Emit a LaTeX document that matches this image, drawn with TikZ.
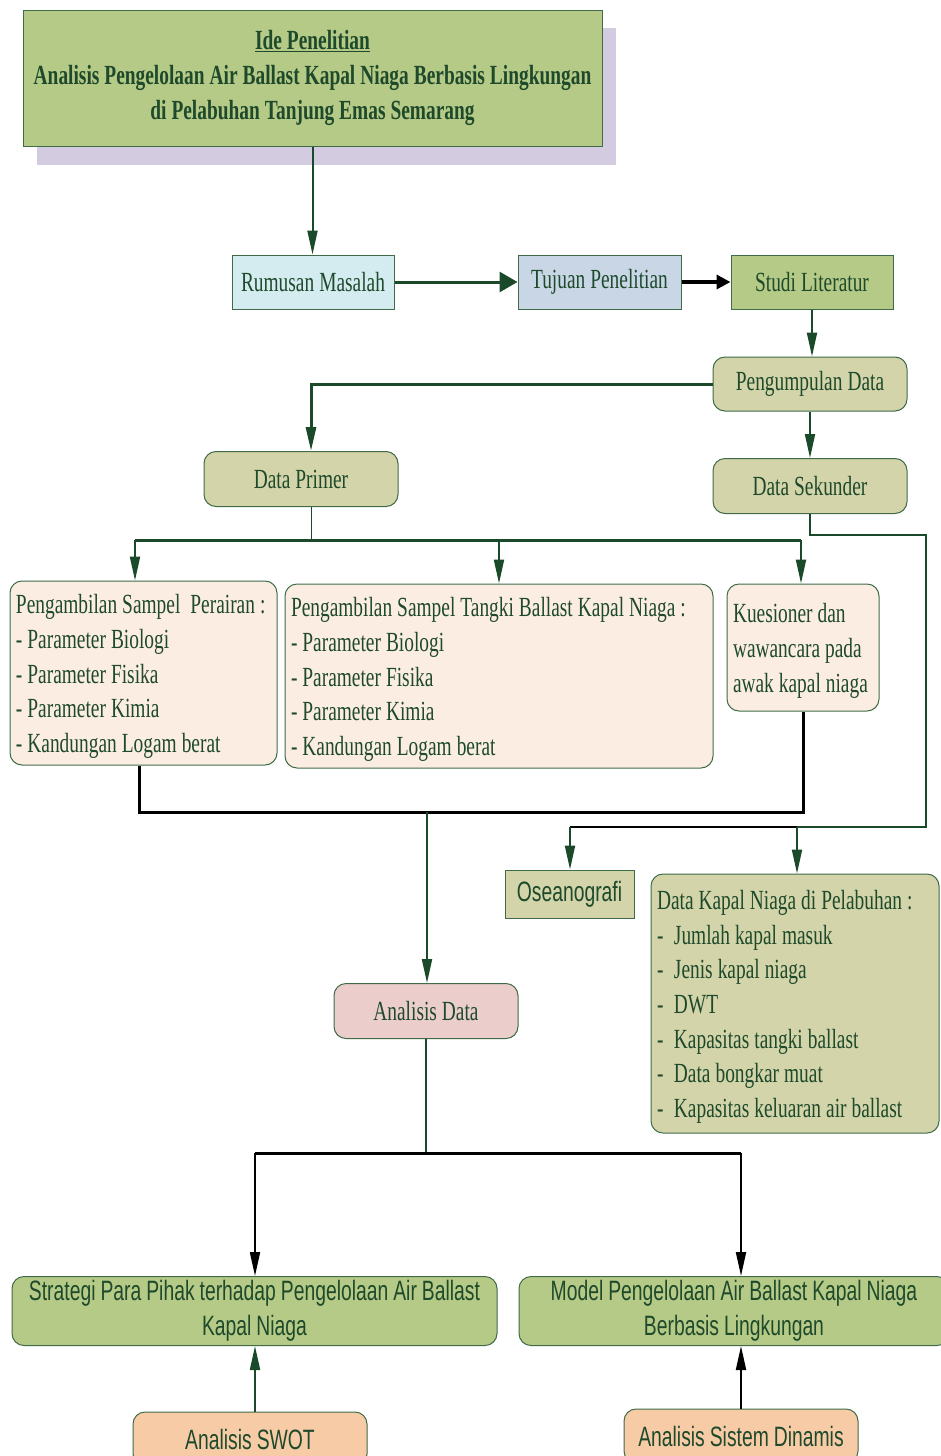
\documentclass[tikz,border=0pt]{standalone}
\usepackage{fontspec}
\setmainfont[FakeStretch=0.70]{Liberation Serif}
\setsansfont[FakeStretch=0.69]{Liberation Sans}
\usetikzlibrary{arrows.meta}

\definecolor{hijau}{HTML}{B6CA87}
\definecolor{khaki}{HTML}{D3D4A9}
\definecolor{krem}{HTML}{FCEDE3}
\definecolor{merahmuda}{HTML}{EBCDCB}
\definecolor{jingga}{HTML}{F8CBA7}
\definecolor{biru}{HTML}{D4EBF0}
\definecolor{birukelabu}{HTML}{C9D6E6}
\definecolor{ungu}{HTML}{D3CBE0}
\definecolor{garis}{HTML}{3F6B48}
\definecolor{teks}{HTML}{1E4A2B}
\definecolor{gelap}{HTML}{1A4A2A}

\newcommand\ukuran{\fontsize{27.7}{34.7}\selectfont}
\newcommand\sansukuran{\sffamily\fontsize{28}{35}\selectfont}
\newcommand\butir{\makebox[17pt][l]{-}}

\tikzset{
  kotak/.style={draw=garis,line width=1pt,inner sep=0pt,minimum height=54pt,text=teks,font=\ukuran,
    execute at begin node={\spaceskip=5pt\relax\xspaceskip=5pt\relax}},
  bulat/.style={kotak,rounded corners=12pt},
  daftar/.style={bulat,align=left,inner xsep=6pt,
    execute at begin node={\spaceskip=5pt\relax\xspaceskip=5pt\relax\rule{0pt}{26pt}}},
  panah/.style={draw=gelap,line width=2pt,-{Triangle[length=24pt,width=10pt]}},
  panahhitam/.style={draw=black,line width=2pt,-{Triangle[length=24pt,width=10pt]}},
  garishijau/.style={draw=gelap,line width=2.5pt},
  garishitam/.style={draw=black,line width=3pt}
}

\begin{document}
\begin{tikzpicture}[x=1pt,y=-1pt]
        \useasboundingbox (0,0) rectangle (940,1456);

        % 阴影
        \fill[ungu] (37,28) rectangle (616,165);

        % 标题
        \node[kotak,fill=hijau,minimum width=579pt,minimum height=136pt,align=center,font=\ukuran\bfseries] (ide) at (312.5,78)
          {\underline{Ide Penelitian}\\Analisis Pengelolaan Air Ballast Kapal Niaga Berbasis Lingkungan\\di Pelabuhan Tanjung Emas Semarang};

        % 第一行
        \node[kotak,fill=biru,minimum width=162pt] (rumusan) at (313,282) {Rumusan Masalah};
        \node[kotak,fill=birukelabu,minimum width=163pt] (tujuan) at (599.5,282) {Tujuan Penelitian};
        \node[kotak,fill=hijau,minimum width=162pt] (studi) at (812,282) {Studi Literatur};

        % 数据
        \node[bulat,fill=khaki,minimum width=194pt] (kumpul) at (810,384) {Pengumpulan Data};
        \node[bulat,fill=khaki,minimum width=194pt,minimum height=55pt] (primer) at (301,479) {Data Primer};
        \node[bulat,fill=khaki,minimum width=194pt,minimum height=55pt] (sekunder) at (810,486) {Data Sekunder};

        % 采样
        \node[daftar,fill=krem,text width=255pt,minimum height=184pt] (sampelair) at (143.5,673)
          {Pengambilan Sampel\ \ Perairan :\\- Parameter Biologi\\- Parameter Fisika\\- Parameter Kimia\\- Kandungan Logam berat};
        \node[daftar,fill=krem,text width=416pt,minimum height=184pt] (tangki) at (499,676)
          {Pengambilan Sampel Tangki Ballast Kapal Niaga :\\- Parameter Biologi\\- Parameter Fisika\\- Parameter Kimia\\- Kandungan Logam berat};
        \node[daftar,fill=krem,text width=140pt,minimum height=127pt] (kuesioner) at (803,647.5)
          {Kuesioner dan\\wawancara pada\\awak kapal niaga};

        % 次级数据
        \node[kotak,fill=khaki,minimum width=129pt,minimum height=48pt,font=\sansukuran] (oseano) at (569.5,894) {Oseanografi};
        \node[daftar,fill=khaki,text width=276pt,minimum height=259pt] (kapal) at (795,1003.5)
          {Data Kapal Niaga di Pelabuhan :\\\butir Jumlah kapal masuk\\\butir Jenis kapal niaga\\\butir DWT\\\butir Kapasitas tangki ballast\\\butir Data bongkar muat\\\butir Kapasitas keluaran air ballast};

        % 分析
        \node[bulat,fill=merahmuda,minimum width=184pt,minimum height=55pt] (analisis) at (426,1011) {Analisis Data};

        % 结果
        \node[bulat,fill=hijau,minimum width=485pt,minimum height=69pt,align=center,font=\sansukuran] (strategi) at (254.5,1311)
          {Strategi Para Pihak terhadap Pengelolaan Air Ballast\\Kapal Niaga};
        \node[bulat,fill=hijau,minimum width=430pt,minimum height=69pt,align=center,font=\sansukuran] (model) at (734,1311)
          {Model Pengelolaan Air Ballast Kapal Niaga\\Berbasis Lingkungan};
        \node[bulat,fill=jingga,minimum width=234pt,minimum height=54pt,font=\sansukuran] (swot) at (250,1439) {Analisis SWOT};
        \node[bulat,fill=jingga,minimum width=234pt,minimum height=54pt,font=\sansukuran] (dinamis) at (741,1436) {Analisis Sistem Dinamis};

        % 辅助点
        \coordinate (kiri) at (135,540);
        \coordinate (kanan) at (801,540);
        \coordinate (belok) at (926,535);
        \coordinate (laut) at (570,827);
        \coordinate (niaga) at (797,827);
        \coordinate (gabung) at (427,812);
        \coordinate (ki) at (255,1153);
        \coordinate (ka) at (741,1153);

        % 连线
        \draw[panah] (ide.south) -- (ide.south |- rumusan.north);
        \draw[draw=gelap,line width=3pt,-{Triangle[length=18pt,width=20pt]}] (rumusan) -- (tujuan);
        \draw[draw=black,line width=3.5pt,-{Triangle[length=14pt,width=14pt]}] (tujuan) -- (studi);
        \draw[panah] (studi.south) -- (studi.south |- kumpul.north);
        \draw[panah,line width=3pt] (kumpul.west) -| ([xshift=10pt]primer.north);
        \draw[panah] (kumpul) -- (sekunder);

        \draw[draw=gelap,line width=1pt] ([xshift=10pt]primer.south) -- ([xshift=10pt]primer.south |- kiri);
        \draw[garishijau,line width=3pt] (kiri) -- (kanan);
        \draw[panah] (kiri) -- (kiri |- sampelair.north);
        \draw[panah] (tangki.north |- kiri) -- (tangki.north);
        \draw[panah] (kanan) -- (kanan |- kuesioner.north);

        \draw[garishijau,line width=2pt] (sekunder.south) |- (belok) |- (niaga);
        \draw[garishitam,line width=2.5pt] (niaga) -- (laut);
        \draw[panah] (laut) -- (laut |- oseano.north);
        \draw[panah] (niaga) -- (niaga |- kapal.north);

        \draw[garishitam] ([xshift=-4pt]sampelair.south) |- (gabung) -| (kuesioner.south);
        \draw[panah] (gabung) -- (gabung |- analisis.north);

        \draw[garishijau,line width=2pt] (analisis.south) -- (analisis.south |- ki);
        \draw[garishitam] (ki) -- (ka);
        \draw[panahhitam] (ki) -- (ki |- strategi.north);
        \draw[panahhitam] (ka) -- (ka |- model.north);
        \draw[panah] (swot.north -| ki) -- (strategi.south -| ki);
        \draw[panahhitam] (dinamis.north) -- (dinamis.north |- model.south);
    \end{tikzpicture}
\end{document}
